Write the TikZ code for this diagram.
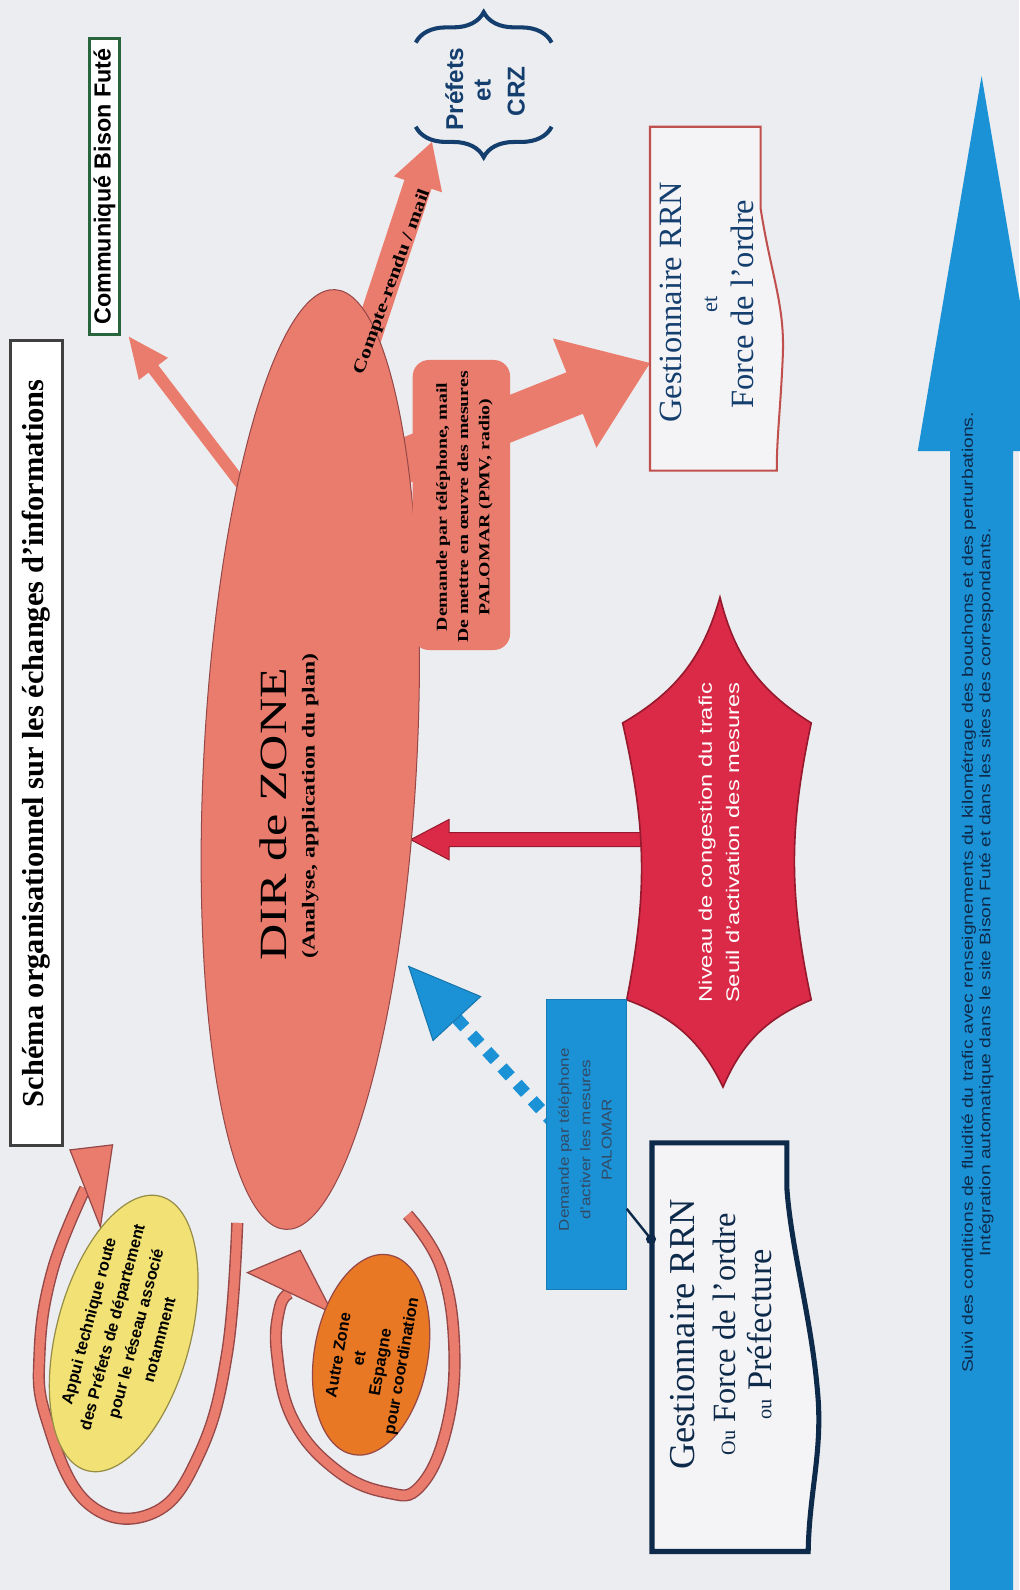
\documentclass[tikz,border=0pt]{standalone}
\usepackage{fontspec}
\usepackage{graphicx}
\setmainfont{Liberation Serif}
\setsansfont{Liberation Sans}
\usetikzlibrary{calc,shapes.geometric,decorations.pathreplacing}
\definecolor{bgc}{RGB}{236,237,240}
\definecolor{salm}{RGB}{234,124,110}
\definecolor{salmd}{RGB}{150,72,72}
\definecolor{navy}{RGB}{20,62,110}
\definecolor{navyd}{RGB}{14,42,74}
\definecolor{bluec}{RGB}{28,146,214}
\definecolor{crim}{RGB}{218,42,72}
\definecolor{crimd}{RGB}{150,25,45}
\definecolor{yel}{RGB}{242,226,118}
\definecolor{yeld}{RGB}{150,140,70}
\definecolor{ora}{RGB}{232,120,35}
\definecolor{grn}{RGB}{40,100,60}
\definecolor{redb}{RGB}{192,80,77}
\newcommand{\stx}[2][1.25]{\scalebox{#1}[1]{#2}}
% [style]{from}{tip}{half shaft}{half head}{head length}
\newcommand{\blockarr}[6][]{%
  \coordinate (ba-b) at ($(#3)!#6!(#2)$);
  \filldraw[#1] ($(#2)!#4!90:(#3)$) -- ($(ba-b)!#4!90:(#3)$) -- ($(ba-b)!#5!90:(#3)$)
    -- (#3) -- ($(ba-b)!#5!-90:(#3)$) -- ($(ba-b)!#4!-90:(#3)$) -- ($(#2)!#4!-90:(#3)$) -- cycle;}
\begin{document}
\begin{tikzpicture}[x=0.5pt,y=-0.5pt,
  rot/.style={rotate=90,inner sep=0pt},
  salmarr/.style={fill=salm,draw=none},
  band/.style={line width=6pt,draw=salmd,postaction={draw=salm,line width=4.6pt}},
  headshape/.style={fill=salm,draw=salmd,line width=0.6pt}]
\useasboundingbox (0,0) rectangle (1005,1568);
\fill[bgc] (0,0) rectangle (1005,1568);

% ---------- big blue arrow on the right ----------
\coordinate (bbot) at (968,1580);
\coordinate (btip) at (968,75);
\blockarr[fill=bluec,draw=none]{bbot}{btip}{15.5pt}{31.5pt}{185pt}
\node[rot,align=center,text=navyd,font=\sffamily\fontsize{7.5}{8.6}\selectfont] (bluetxt) at (964,880)
  {\stx[1.27]{Suivi des conditions de fluidité du trafic avec renseignements du kilométrage des bouchons et des perturbations.}\\
   \stx[1.27]{Intégration automatique dans le site Bison Futé et dans les sites des correspondants.}};

% ---------- arrows leaving DIR de ZONE ----------
\coordinate (a1s) at (240,480);  \coordinate (a1t) at (127,332);
\blockarr[salmarr]{a1s}{a1t}{3pt}{9pt}{20pt}
\coordinate (a2s) at (340,400);  \coordinate (a2t) at (426,140);
\blockarr[salmarr]{a2s}{a2t}{7pt}{12.5pt}{22pt}
\coordinate (a3s) at (385,460);  \coordinate (a3t) at (641,358);
\blockarr[salmarr]{a3s}{a3t}{11pt}{29pt}{40pt}

% ---------- red arrow from the star ----------
\coordinate (rs) at (660,828); \coordinate (rt) at (405,828);
\blockarr[fill=crim,draw=crimd,line width=0.5pt]{rs}{rt}{3.5pt}{10pt}{19pt}

% ---------- dashed blue arrow ----------
\coordinate (bds) at (548,1110); \coordinate (bdt) at (403,953);
\coordinate (bdb) at ($(bdt)!35pt!(bds)$);
\draw[bluec,line width=6pt,dash pattern=on 6pt off 5pt] (bds) -- (bdb);
\blockarr[fill=bluec,draw=bluec!80!black,line width=0.5pt]{bdb}{bdt}{0pt}{16pt}{35pt}

% ---------- curved arrows ----------
\draw[band] plot[smooth,tension=0.7] coordinates {(234,1206) (224,1334) (197,1433) (151,1492) (86,1482) (46,1400) (39,1334) (52,1252) (84,1172)};
\filldraw[headshape] (69,1134) -- (111,1129) -- (99,1210) -- cycle;
\draw[band] plot[smooth,tension=0.7] coordinates {(402,1198) (435,1250) (448,1330) (440,1410) (414,1466) (382,1472) (332,1450) (289,1400) (273,1334) (276,1289) (286,1275)};
\filldraw[headshape] (244,1255) -- (296,1233) -- (328,1295) -- cycle;

% ---------- DIR de ZONE ----------
\node[ellipse,fill=salm,draw=salmd,line width=0.5pt,inner sep=0pt,minimum width=105pt,minimum height=464pt,rotate=-3] (dir) at (306,749) {};
\node[rot,font=\fontsize{19}{20}\selectfont] (dirt) at (270,803) {\stx[1.3]{DIR de ZONE}};
\node[rot,font=\bfseries\fontsize{9}{10}\selectfont] (dirs) at (306,795) {\stx[1.3]{(Analyse, application du plan)}};

% compte-rendu label
\node[rotate=70,inner sep=0pt,font=\bfseries\fontsize{8.5}{9}\selectfont] (crt) at (387,278) {\stx[1.27]{Compte-rendu / mail}};

% ---------- Demande box ----------
\node[rot,fill=salm,rounded corners=8pt,minimum width=143pt,minimum height=48pt] (dem) at (455,498) {};
\node[rot,align=center,font=\bfseries\fontsize{7.5}{10.5}\selectfont] (demt) at (458,500)
  {\stx[1.3]{Demande par téléphone, mail}\\ \stx[1.3]{De mettre en œuvre des mesures}\\ \stx[1.3]{PALOMAR (PMV, radio)}};

% ---------- star ----------
\coordinate (sT) at (710,589); \coordinate (sTR) at (800,713); \coordinate (sBR) at (800,986);
\coordinate (sB) at (713,1072); \coordinate (sBL) at (618,986); \coordinate (sTL) at (614,713);
\filldraw[fill=crim,draw=crimd,line width=0.8pt] (sT) to[bend right=22] (sTR) to[bend right=12] (sBR)
  to[bend right=22] (sB) to[bend right=22] (sBL) to[bend right=12] (sTL) to[bend right=22] (sT) -- cycle;
\node[rot,align=center,text=white,font=\sffamily\fontsize{9}{13.5}\selectfont] (startxt) at (709,831)
  {\stx[1.3]{Niveau de congestion du trafic}\\ \stx[1.3]{Seuil d'activation des mesures}};

% ---------- blue box ----------
\node[rot,fill=bluec,draw=bluec!85!black,line width=0.6pt,minimum width=143pt,minimum height=39.5pt] (bluebox) at (578.5,1129) {};
\node[rot,align=center,text=navyd!85,font=\sffamily\fontsize{7}{10.5}\selectfont] (blueboxt) at (577,1124)
  {\stx[1.2]{Demande par téléphone}\\ \stx[1.2]{d'activer les mesures}\\ \stx[1.2]{PALOMAR}};

% ---------- Gestionnaire RRN et Force de l'ordre ----------
\filldraw[fill=white!40!bgc,draw=redb,line width=1pt] (641,125) -- (750,125) -- (750,205)
  .. controls (760,270) and (774,300) .. (772,350) .. controls (770,400) and (766,430) .. (766,464) -- (641,464) -- cycle;
\coordinate (g1w) at (641,358);
\node[rot,text=navy,font=\fontsize{16}{17}\selectfont] (g1a) at (662,298) {Gestionnaire RRN};
\node[rot,text=navy,font=\fontsize{11}{12}\selectfont] (g1b) at (701,300) {et};
\node[rot,text=navy,font=\fontsize{16}{17}\selectfont] (g1c) at (732,300) {Force de l'ordre};

% ---------- Gestionnaire RRN ou Force ou Préfecture ----------
\filldraw[fill=white!40!bgc,draw=navyd,line width=2.5pt] (643,1127) -- (776,1127) -- (776,1172)
  .. controls (780,1230) and (800,1300) .. (806,1370) .. controls (812,1430) and (798,1470) .. (797,1530) -- (643,1530) -- cycle;
\node[rot,text=navyd,font=\fontsize{18}{19}\selectfont] (g2a) at (673,1316) {Gestionnaire RRN};
\node[rot,text=navyd,font=\fontsize{16}{17}\selectfont] (g2b) at (714,1316) {{\fontsize{10}{11}\selectfont Ou} Force de l'ordre};
\node[rot,text=navyd,font=\fontsize{17}{18}\selectfont] (g2c) at (749,1316) {{\fontsize{10}{11}\selectfont ou} Préfecture};
\coordinate (bbtick) at (618,1192);
\coordinate (g2dot) at (642,1222);
\draw[navyd,line width=1.2pt] (bbtick) -- (g2dot);
\fill[navyd] (g2dot) circle (2.5pt);

% ---------- title ----------
\node[rot,draw=black!75,line width=1.5pt,fill=white,minimum width=397pt,minimum height=26pt,
  font=\bfseries\fontsize{15}{16}\selectfont] (title) at (36,733) {Schéma organisationnel sur les échanges d'informations};

% ---------- Communiqué Bison Futé ----------
\node[rot,draw=grn,line width=1.3pt,fill=white,minimum width=146pt,minimum height=15pt,
  font=\sffamily\bfseries\fontsize{11.5}{12}\selectfont] (bison) at (103,184) {Communiqué Bison Futé};

% ---------- Préfets et CRZ ----------
\draw[navy,line width=2pt,decorate,decoration={brace,amplitude=15pt}] (410,42) -- (544,42);
\draw[navy,line width=2pt,decorate,decoration={brace,amplitude=15pt}] (544,125) -- (410,125);
\node[rot,text=navy,font=\sffamily\bfseries\fontsize{12}{13}\selectfont] (pref) at (448,88) {Préfets};
\node[rot,text=navy,font=\sffamily\bfseries\fontsize{12}{13}\selectfont] (prefet) at (476,89) {et};
\node[rot,text=navy,font=\sffamily\bfseries\fontsize{12}{13}\selectfont] (crz) at (509,90) {CRZ};

% ---------- yellow and orange ellipses ----------
\node[ellipse,fill=yel,draw=yeld,line width=0.6pt,inner sep=0pt,minimum width=66pt,minimum height=140pt,rotate=-15] (yell) at (122,1315) {};
\node[rotate=75,align=center,inner sep=0pt,font=\sffamily\bfseries\fontsize{8}{12}\selectfont] (yellt) at (122,1312)
  {Appui technique route\\des Préfets de département\\pour le réseau associé\\notamment};
\node[ellipse,fill=ora,draw=salmd,line width=0.6pt,inner sep=0pt,minimum width=56pt,minimum height=100pt,rotate=-10] (oral) at (366,1336) {};
\node[rotate=80,align=center,inner sep=0pt,font=\sffamily\bfseries\fontsize{8}{10.5}\selectfont] (oralt) at (366,1342)
  {Autre Zone\\et\\Espagne\\pour coordination};
\end{tikzpicture}
\end{document}
